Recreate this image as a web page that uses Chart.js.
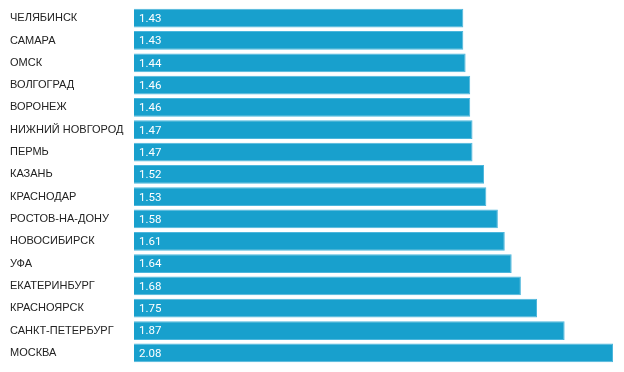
<!DOCTYPE html>
<html>
<head>
<meta charset="utf-8">
<script src="https://cdn.jsdelivr.net/npm/chart.js@4/dist/chart.umd.min.js"></script>
<style>
  html, body { margin: 0; padding: 0; background: #fff; }
  #wrap { width: 624px; height: 372px; }
</style>
</head>
<body>
<div id="wrap"><canvas id="cityChart"></canvas></div>
<script>
// Cities and values
const cities = ['ЧЕЛЯБИНСК', 'САМАРА', 'ОМСК', 'ВОЛГОГРАД', 'ВОРОНЕЖ', 'НИЖНИЙ НОВГОРОД', 'ПЕРМЬ',
  'КАЗАНЬ', 'КРАСНОДАР', 'РОСТОВ-НА-ДОНУ', 'НОВОСИБИРСК', 'УФА', 'ЕКАТЕРИНБУРГ', 'КРАСНОЯРСК',
  'САНКТ-ПЕТЕРБУРГ', 'МОСКВА'];
const values = [1.43, 1.43, 1.44, 1.46, 1.46, 1.47, 1.47, 1.52, 1.53, 1.58, 1.61, 1.64, 1.68, 1.75, 1.87, 2.08];

// Draw value text inside each bar
const valueLabels = {
  id: 'valueLabels',
  afterDatasetsDraw(chart) {
    const ctx = chart.ctx;
    const meta = chart.getDatasetMeta(0);
    ctx.save();
    ctx.fillStyle = '#ffffff';
    ctx.font = '11.5px Roboto';
    ctx.textBaseline = 'middle';
    ctx.textAlign = 'left';
    meta.data.forEach((bar, i) => {
      ctx.fillText(values[i].toFixed(2), bar.base + 5, bar.y + 1);
    });
    ctx.restore();
  }
};

const ctx = document.getElementById('cityChart').getContext('2d');
const cityChart = new Chart(ctx, {
  type: 'bar',
  data: {
    labels: cities,
    datasets: [{
      data: values,
      backgroundColor: '#18a0cd',
      borderColor: '#4db6dc',
      borderWidth: 1,
      barPercentage: 0.84,
      categoryPercentage: 1
    }]
  },
  options: {
    indexAxis: 'y',
    responsive: true,
    maintainAspectRatio: false,
    animation: false,
    layout: { padding: { left: 10, right: 11, top: 7, bottom: 8 } },
    plugins: { legend: { display: false }, tooltip: { enabled: false } },
    scales: {
      x: { display: false, min: 0, max: 2.08 },
      y: {
        grid: { display: false, drawTicks: false },
        border: { display: false },
        afterFit: (scale) => { scale.width = 124; },
        ticks: {
          crossAlign: 'far',
          padding: 0,
          color: '#222222',
          font: { family: 'Arial, "Liberation Sans"', size: 11 }
        }
      }
    }
  },
  plugins: [valueLabels]
});
</script>
</body>
</html>
